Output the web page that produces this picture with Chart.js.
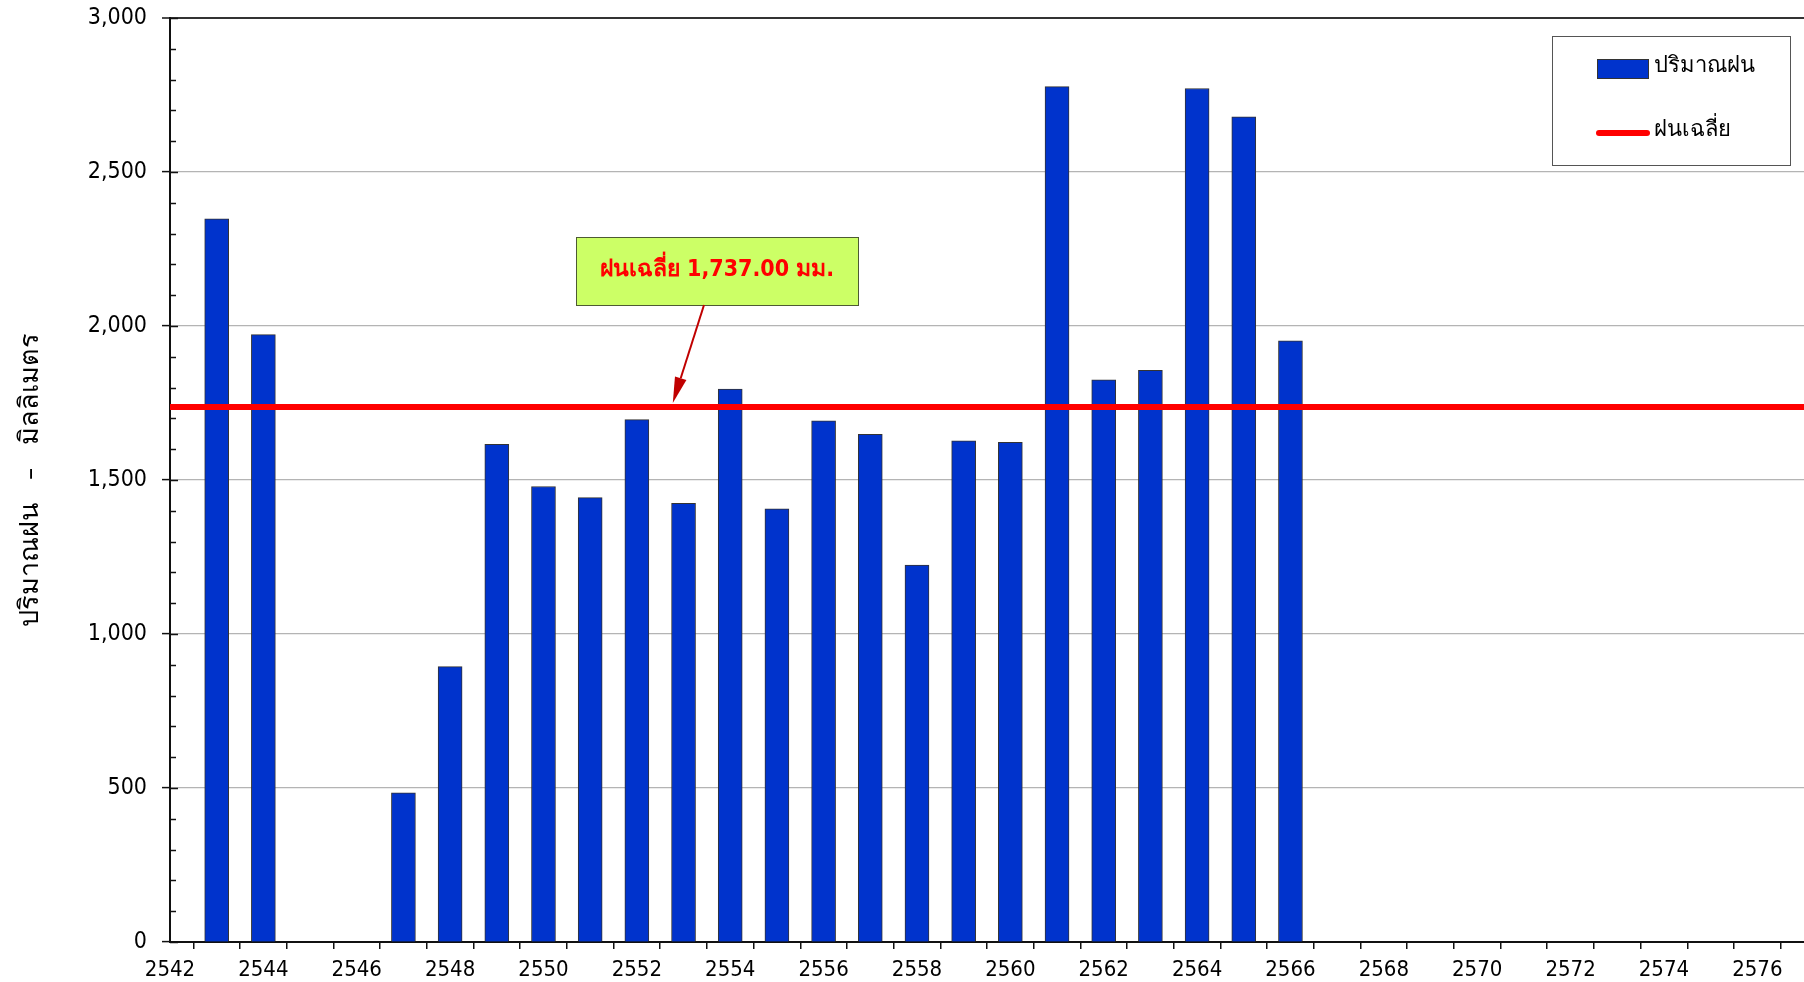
<!DOCTYPE html>
<html>
<head>
<meta charset="utf-8">
<script src="https://cdn.jsdelivr.net/npm/chart.js@4.4.1/dist/chart.umd.min.js"></script>
<style>
  html, body { margin: 0; padding: 0; background: #fff; }
  canvas { display: block; }
</style>
</head>
<body>
<canvas id="rain" width="1804" height="982"></canvas>
<script>
// annual rainfall (Thai Buddhist years)
const years = [2543, 2544, 2547, 2548, 2549, 2550, 2551, 2552, 2553, 2554, 2555,
               2556, 2557, 2558, 2559, 2560, 2561, 2562, 2563, 2564, 2565, 2566];
const rainfall = [2348, 1972, 484, 894, 1616, 1479, 1443, 1696, 1424, 1795, 1406,
                  1692, 1648, 1224, 1627, 1622, 2777, 1825, 1856, 2771, 2679, 1952];
const averageRain = 1737;
const yearMin = 2542;
const yearMax = 2577;
const rainMax = 3000;

const seriesLabel = 'ปริมาณฝน';
const averageLabel = 'ฝนเฉลี่ย';
const yTitle = 'ปริมาณฝน   –   มิลลิเมตร';
const noteText = 'ฝนเฉลี่ย 1,737.00 มม.';

const FONT = 'Tahoma, "DejaVu Sans Condensed", "DejaVu Sans", sans-serif';
const BAR_BLUE = '#0033cc';
const AVG_RED = '#ff0000';

// small inward tick marks on the y axis (every 100)
const innerTicks = {
    id: 'innerTicks',
    afterDraw(chart) {
        const { ctx, scales: { x, y } } = chart;
        ctx.save();
        ctx.strokeStyle = '#111';
        ctx.lineWidth = 1.5;
        for (let v = 0; v <= rainMax; v += 100) {
            const py = Math.round(y.getPixelForValue(v)) + 0.5;
            const len = v % 500 === 0 ? 8 : 6;
            ctx.beginPath();
            ctx.moveTo(x.left, py);
            ctx.lineTo(x.left + len, py);
            ctx.stroke();
        }
        ctx.restore();
    }
};

// callout box with arrow pointing at the average line
const avgNote = {
    id: 'avgNote',
    afterDatasetsDraw(chart) {
        const { ctx, scales: { x, y } } = chart;
        const bx = 576, by = 237, bw = 282, bh = 68;
        ctx.save();
        ctx.fillStyle = '#ccff66';
        ctx.fillRect(bx, by, bw, bh);
        ctx.strokeStyle = '#4d5a33';
        ctx.lineWidth = 1;
        ctx.strokeRect(bx + 0.5, by + 0.5, bw, bh);
        ctx.fillStyle = '#ff0000';
        ctx.font = 'bold 23px ' + FONT;
        ctx.textAlign = 'center';
        ctx.textBaseline = 'middle';
        ctx.fillText(noteText, bx + bw / 2, by + bh / 2 - 1);

        // arrow
        const sx = 704, sy = by + bh;
        const tx = x.getPixelForValue(2552.77);
        const ty = y.getPixelForValue(averageRain) - 4;
        const ang = Math.atan2(ty - sy, tx - sx);
        const headLen = 26, headW = 6;
        const hx = tx - headLen * Math.cos(ang), hy = ty - headLen * Math.sin(ang);
        ctx.strokeStyle = '#c00000';
        ctx.fillStyle = '#c00000';
        ctx.lineWidth = 2;
        ctx.beginPath();
        ctx.moveTo(sx, sy);
        ctx.lineTo(hx, hy);
        ctx.stroke();
        ctx.beginPath();
        ctx.moveTo(tx, ty);
        ctx.lineTo(hx + headW * Math.sin(ang), hy - headW * Math.cos(ang));
        ctx.lineTo(hx - headW * Math.sin(ang), hy + headW * Math.cos(ang));
        ctx.closePath();
        ctx.fill();
        ctx.restore();
    }
};

// boxed legend in the top right corner
const boxLegend = {
    id: 'boxLegend',
    afterDraw(chart) {
        const { ctx } = chart;
        const [bars, avg] = chart.data.datasets;
        ctx.save();
        ctx.fillStyle = '#fff';
        ctx.fillRect(1552, 36, 238, 129);
        ctx.strokeStyle = '#555';
        ctx.lineWidth = 1;
        ctx.strokeRect(1552.5, 36.5, 238, 129);

        ctx.fillStyle = bars.backgroundColor;
        ctx.fillRect(1597, 59, 51, 19);
        ctx.strokeStyle = '#333';
        ctx.strokeRect(1597.5, 59.5, 51, 19);

        ctx.strokeStyle = avg.borderColor;
        ctx.lineWidth = 6;
        ctx.lineCap = 'round';
        ctx.beginPath();
        ctx.moveTo(1599, 133);
        ctx.lineTo(1647, 133);
        ctx.stroke();

        ctx.fillStyle = '#000';
        ctx.font = '22px ' + FONT;
        ctx.textAlign = 'left';
        ctx.textBaseline = 'middle';
        ctx.fillText(bars.label, 1654, 66);
        ctx.fillText(avg.label, 1654, 130);
        ctx.restore();
    }
};

new Chart(document.getElementById('rain'), {
    data: {
        datasets: [
            {
                type: 'bar',
                label: seriesLabel,
                data: years.map((yr, i) => ({ x: yr, y: rainfall[i] })),
                backgroundColor: BAR_BLUE,
                borderColor: '#333',
                borderWidth: 1,
                barThickness: 24,
                order: 2
            },
            {
                type: 'line',
                label: averageLabel,
                data: [{ x: yearMin, y: averageRain }, { x: yearMax, y: averageRain }],
                borderColor: AVG_RED,
                borderWidth: 6,
                pointRadius: 0,
                order: 1
            }
        ]
    },
    options: {
        responsive: false,
        animation: false,
        layout: { padding: { top: 18, right: 0, left: 0, bottom: 0 } },
        plugins: {
            legend: { display: false },
            tooltip: { enabled: false }
        },
        scales: {
            x: {
                type: 'linear',
                min: yearMin,
                max: yearMax,
                offset: false,
                afterFit: (scale) => {
                    scale.height = 40;
                    scale.paddingLeft = 0;
                    scale.paddingRight = 0;
                },
                border: { color: '#111', width: 2 },
                grid: {
                    drawOnChartArea: false,
                    drawTicks: true,
                    tickLength: 7,
                    color: '#111',
                    lineWidth: 1.5
                },
                ticks: {
                    stepSize: 1,
                    autoSkip: false,
                    maxRotation: 0,
                    padding: 8,
                    color: '#000',
                    font: { family: FONT, size: 22 },
                    callback: (v) => (v % 2 === 0 ? String(v) : '')
                }
            },
            y: {
                min: 0,
                max: rainMax,
                afterFit: (scale) => {
                    scale.width = 170;
                    scale.paddingTop = 0;
                    scale.paddingBottom = 0;
                },
                border: { color: '#111', width: 2 },
                grid: {
                    tickLength: 8,
                    color: (c) => {
                        if (c.tick.value === rainMax) return '#333';
                        return c.tick.value % 500 === 0 ? '#b4b4b4' : 'rgba(0,0,0,0)';
                    },
                    lineWidth: (c) => (c.tick.value === rainMax ? 2 : 1.2),
                    tickColor: (c) => (c.tick.value % 500 === 0 ? '#111' : 'rgba(0,0,0,0)'),
                    tickWidth: 1.5
                },
                ticks: {
                    stepSize: 100,
                    autoSkip: false,
                    padding: 15,
                    color: '#000',
                    font: { family: FONT, size: 23 },
                    callback: (v) => (v % 500 === 0 ? v.toLocaleString('en-US') : '')
                },
                title: {
                    display: true,
                    text: yTitle,
                    color: '#000',
                    font: { family: FONT, size: 27 },
                    padding: { top: 15, bottom: 0 }
                }
            }
        }
    },
    plugins: [innerTicks, avgNote, boxLegend]
});
</script>
</body>
</html>
